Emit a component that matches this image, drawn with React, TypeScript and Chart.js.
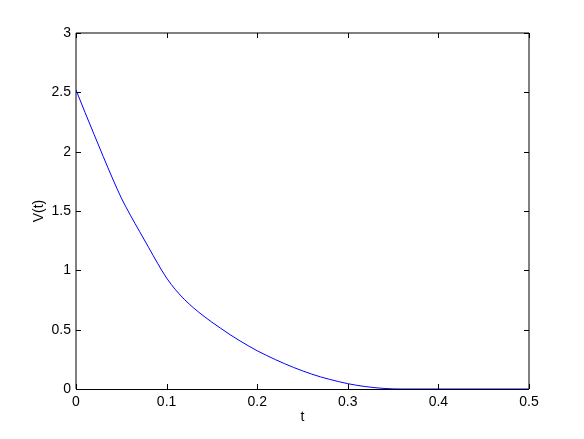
import React, { useEffect, useRef } from "react";
import { Chart, registerables } from "chart.js";

Chart.register(...registerables);

const tValues = [0, 0.01, 0.02, 0.03, 0.04, 0.05, 0.06, 0.07, 0.08, 0.09, 0.1, 0.11, 0.12, 0.13, 0.14, 0.15, 0.16, 0.17, 0.18, 0.19, 0.2, 0.21, 0.22, 0.23, 0.24, 0.25, 0.26, 0.27, 0.28, 0.29, 0.3, 0.31, 0.32, 0.33, 0.34, 0.35, 0.36, 0.5];
const vValues = [2.52, 2.33, 2.145, 1.96, 1.78, 1.61, 1.465, 1.33, 1.195, 1.06, 0.935, 0.835, 0.752, 0.682, 0.62, 0.563, 0.51, 0.458, 0.41, 0.365, 0.322, 0.284, 0.248, 0.214, 0.182, 0.153, 0.126, 0.102, 0.081, 0.062, 0.045, 0.031, 0.02, 0.011, 0.005, 0.001, 0, 0];
const xTicks = [0, 0.1, 0.2, 0.3, 0.4, 0.5];
const yTicks = [0, 0.5, 1, 1.5, 2, 2.5, 3];

const FONT = "'Liberation Sans', Arial, sans-serif";

const boxPlugin = {
  id: "matlabBox",
  beforeDatasetsDraw(chart: any) {
    const { ctx, chartArea, scales } = chart;
    const { left, right, top, bottom } = chartArea;
    ctx.save();
    ctx.lineWidth = 1;
    ctx.strokeStyle = "#000";
    ctx.beginPath();
    ctx.moveTo(left, bottom);
    ctx.lineTo(left, top);
    ctx.lineTo(right, top);
    ctx.lineTo(right, bottom);
    ctx.stroke();
    ctx.beginPath();
    ctx.moveTo(left, bottom + 0.5);
    ctx.lineTo(right, bottom + 0.5);
    ctx.stroke();
    const tl = 5;
    ctx.beginPath();
    for (const v of xTicks) {
      const x = Math.round(scales.x.getPixelForValue(v)) + 0.5;
      ctx.moveTo(x, bottom);
      ctx.lineTo(x, bottom - tl);
      ctx.moveTo(x, top);
      ctx.lineTo(x, top + tl);
    }
    for (const v of yTicks) {
      const y = Math.round(scales.y.getPixelForValue(v)) + 0.5;
      ctx.moveTo(left, y);
      ctx.lineTo(left + tl, y);
      ctx.moveTo(right, y);
      ctx.lineTo(right - tl, y);
    }
    ctx.stroke();
    ctx.restore();
  },
};

export default function App() {
  const ref = useRef<HTMLCanvasElement | null>(null);
  useEffect(() => {
    document.body.style.margin = "0";
    const canvas = ref.current!;
    const chart = new Chart(canvas, {
      type: "scatter",
      data: {
        datasets: [
          {
            data: tValues.map((t, i) => ({ x: t, y: vValues[i] })),
            showLine: true,
            borderColor: "#0000ff",
            borderWidth: 1,
            pointRadius: 0,
            cubicInterpolationMode: "monotone",
            fill: false,
          },
        ],
      },
      options: {
        animation: false,
        responsive: false,
        devicePixelRatio: 1,
        layout: { padding: { left: 0, top: 33, right: 55, bottom: 0 } },
        plugins: { legend: { display: false }, tooltip: { enabled: false } },
        scales: {
          x: {
            type: "linear",
            min: 0,
            max: 0.5,
            afterFit: (s: any) => { s.height = 50; },
            afterBuildTicks: (s: any) => { s.ticks = xTicks.map((v) => ({ value: v })); },
            grid: { display: false, drawTicks: false },
            border: { display: false },
            ticks: {
              color: "#000",
              font: { family: FONT, size: 14 },
              padding: 5,
              maxRotation: 0,
              callback: (v: any) => String(v),
            },
            title: {
              display: true,
              text: "t",
              color: "#000",
              font: { family: FONT, size: 14 },
              padding: { top: 0, bottom: 13 },
            },
          },
          y: {
            type: "linear",
            min: 0,
            max: 3,
            afterFit: (s: any) => { s.width = 76; },
            afterBuildTicks: (s: any) => { s.ticks = yTicks.map((v) => ({ value: v })); },
            grid: { display: false, drawTicks: false },
            border: { display: false },
            ticks: {
              color: "#000",
              font: { family: FONT, size: 14 },
              padding: 5,
              callback: (v: any) => String(v),
            },
            title: {
              display: true,
              text: "V(t)",
              color: "#000",
              font: { family: FONT, size: 14 },
              padding: { top: 31, bottom: 0 },
            },
          },
        },
      },
      plugins: [boxPlugin],
    });
    return () => chart.destroy();
  }, []);
  return (
    <div style={{ position: "absolute", left: 0, top: 0, width: 584, height: 439, background: "#fff" }}>
      <canvas ref={ref} width={584} height={439} style={{ width: 584, height: 439 }} />
    </div>
  );
}
